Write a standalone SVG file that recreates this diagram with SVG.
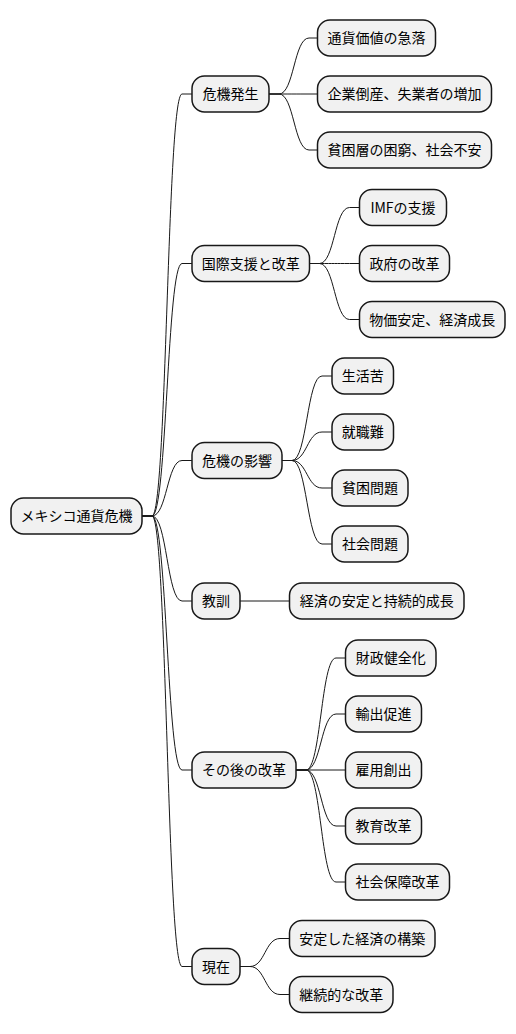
<svg xmlns="http://www.w3.org/2000/svg" width="516" height="1034" viewBox="0 0 516 1034">
<style>
.n rect{fill:#F1F1F1;stroke:#181818;stroke-width:1.5}
.n text{font-family:"Noto Sans CJK JP","Noto Sans",sans-serif;font-size:14px;fill:#000;text-anchor:middle}
.c path{fill:none;stroke:#181818;stroke-width:1}
</style>
<rect width="516" height="1034" fill="#FFFFFF"/>
<g id="connectors" class="c">
<path d="M142,516 L152,516 C167,516 167,94 182,94 L192,94"/>
<path d="M142,516 L152,516 C167,516 167,263.5 182,263.5 L192,263.5"/>
<path d="M142,516 L152,516 C167,516 167,460.5 182,460.5 L192,460.5"/>
<path d="M142,516 L152,516 C167,516 167,601 182,601 L192,601"/>
<path d="M142,516 L152,516 C167,516 167,770 182,770 L192,770"/>
<path d="M142,516 L152,516 C167,516 167,966.5 182,966.5 L192,966.5"/>
<path d="M269,94 L279,94 C294,94 294,38 309,38 L317.5,38"/>
<path d="M269,94 L279,94 C294,94 294,94 309,94 L317.5,94"/>
<path d="M269,94 L279,94 C294,94 294,150 309,150 L317.5,150"/>
<path d="M309.5,263.5 L319.5,263.5 C334.5,263.5 334.5,207.5 349.5,207.5 L359.5,207.5"/>
<path d="M309.5,263.5 L319.5,263.5 C334.5,263.5 334.5,263.5 349.5,263.5 L359.5,263.5"/>
<path d="M309.5,263.5 L319.5,263.5 C334.5,263.5 334.5,319.5 349.5,319.5 L359.5,319.5"/>
<path d="M282,460.5 L292,460.5 C307,460.5 307,376 322,376 L332,376"/>
<path d="M282,460.5 L292,460.5 C307,460.5 307,432 322,432 L332,432"/>
<path d="M282,460.5 L292,460.5 C307,460.5 307,488 322,488 L332,488"/>
<path d="M282,460.5 L292,460.5 C307,460.5 307,544 322,544 L332,544"/>
<path d="M240,601 L289.5,601"/>
<path d="M296,770 L306,770 C321,770 321,658 336,658 L345.5,658"/>
<path d="M296,770 L306,770 C321,770 321,714 336,714 L345.5,714"/>
<path d="M296,770 L345.5,770"/>
<path d="M296,770 L306,770 C321,770 321,826 336,826 L345.5,826"/>
<path d="M296,770 L306,770 C321,770 321,882 336,882 L345.5,882"/>
<path d="M240,966.5 L250,966.5 C265,966.5 265,938.5 280,938.5 L289.5,938.5"/>
<path d="M240,966.5 L250,966.5 C265,966.5 265,994.5 280,994.5 L289.5,994.5"/>
</g>
<g id="root" class="n"><rect x="11" y="498" width="131" height="36" rx="12.5"/><text x="76.5" y="521">メキシコ通貨危機</text></g>
<g id="n1" class="n"><rect x="192" y="76" width="77" height="36" rx="12.5"/><text x="230.5" y="99">危機発生</text></g>
<g id="n1a" class="n"><rect x="317.5" y="20" width="118" height="36" rx="12.5"/><text x="376.5" y="43">通貨価値の急落</text></g>
<g id="n1b" class="n"><rect x="317.5" y="76" width="174" height="36" rx="12.5"/><text x="404.5" y="99">企業倒産、失業者の増加</text></g>
<g id="n1c" class="n"><rect x="317.5" y="132" width="174" height="36" rx="12.5"/><text x="404.5" y="155">貧困層の困窮、社会不安</text></g>
<g id="n2" class="n"><rect x="192" y="245.5" width="117.5" height="36" rx="12.5"/><text x="250.75" y="268.5">国際支援と改革</text></g>
<g id="n2a" class="n"><rect x="359.5" y="189.5" width="87" height="36" rx="12.5"/><text x="403" y="212.5">IMFの支援</text></g>
<g id="n2b" class="n"><rect x="359.5" y="245.5" width="90" height="36" rx="12.5"/><text x="404.5" y="268.5">政府の改革</text></g>
<g id="n2c" class="n"><rect x="359.5" y="301.5" width="145.5" height="36" rx="12.5"/><text x="432.25" y="324.5">物価安定、経済成長</text></g>
<g id="n3" class="n"><rect x="192" y="442.5" width="90" height="36" rx="12.5"/><text x="237" y="465.5">危機の影響</text></g>
<g id="n3a" class="n"><rect x="332" y="358" width="61.5" height="36" rx="12.5"/><text x="362.75" y="381">生活苦</text></g>
<g id="n3b" class="n"><rect x="332" y="414" width="61.5" height="36" rx="12.5"/><text x="362.75" y="437">就職難</text></g>
<g id="n3c" class="n"><rect x="332" y="470" width="76" height="36" rx="12.5"/><text x="370" y="493">貧困問題</text></g>
<g id="n3d" class="n"><rect x="332" y="526" width="76" height="36" rx="12.5"/><text x="370" y="549">社会問題</text></g>
<g id="n4" class="n"><rect x="192" y="583" width="48" height="36" rx="12.5"/><text x="216" y="606">教訓</text></g>
<g id="n4a" class="n"><rect x="289.5" y="583" width="174.5" height="36" rx="12.5"/><text x="376.75" y="606">経済の安定と持続的成長</text></g>
<g id="n5" class="n"><rect x="192" y="752" width="104" height="36" rx="12.5"/><text x="244" y="775">その後の改革</text></g>
<g id="n5a" class="n"><rect x="345.5" y="640" width="90.5" height="36" rx="12.5"/><text x="390.75" y="663">財政健全化</text></g>
<g id="n5b" class="n"><rect x="345.5" y="696" width="76" height="36" rx="12.5"/><text x="383.5" y="719">輸出促進</text></g>
<g id="n5c" class="n"><rect x="345.5" y="752" width="76" height="36" rx="12.5"/><text x="383.5" y="775">雇用創出</text></g>
<g id="n5d" class="n"><rect x="345.5" y="808" width="76" height="36" rx="12.5"/><text x="383.5" y="831">教育改革</text></g>
<g id="n5e" class="n"><rect x="345.5" y="864" width="104" height="36" rx="12.5"/><text x="397.5" y="887">社会保障改革</text></g>
<g id="n6" class="n"><rect x="192" y="948.5" width="48" height="36" rx="12.5"/><text x="216" y="971.5">現在</text></g>
<g id="n6a" class="n"><rect x="289.5" y="920.5" width="145.5" height="36" rx="12.5"/><text x="362.25" y="943.5">安定した経済の構築</text></g>
<g id="n6b" class="n"><rect x="289.5" y="976.5" width="103.5" height="36" rx="12.5"/><text x="341.25" y="999.5">継続的な改革</text></g>
</svg>
